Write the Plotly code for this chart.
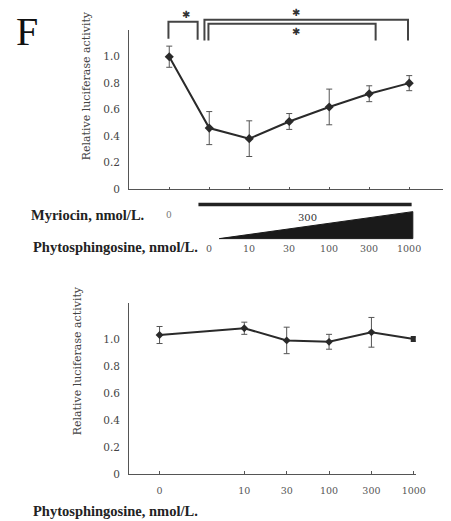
import plotly.graph_objects as go

# ---------------- data ----------------
top_myriocin = ["0", "300", "300", "300", "300", "300", "300"]
top_phyto_labels = ["0", "10", "30", "100", "300", "1000"]
top_mean = [1.00, 0.46, 0.38, 0.51, 0.62, 0.72, 0.80]
top_err = [0.08, 0.125, 0.135, 0.06, 0.135, 0.06, 0.057]

bottom_cats = ["0", "10", "30", "100", "300", "1000"]
bottom_mean = [1.03, 1.08, 0.99, 0.98, 1.05, 1.00]
bottom_err = [0.063, 0.045, 0.098, 0.055, 0.11, 0.015]

y_tickvals = [0, 0.2, 0.4, 0.6, 0.8, 1.0]
y_ticktext = ["0", "0.2", "0.4", "0.6", "0.8", "1.0"]

# significance comparisons: (from index, to index) on the top axis
sig_pairs = [(0, 1), (1, 6), (1, 5)]
sig_text = ["✱", "✱", "✱"]

# ---------------- layout helpers ----------------
W, H = 451, 521
FONT = "Liberation Serif"
TFONT = "DejaVu Serif"
INK = "#2a2a2a"
GREY = "#555555"


def py(px):
    """pixel row -> paper y"""
    return 1 - px / H


def pxx(px):
    return px / W


top_x = list(range(len(top_mean)))
bottom_x = [0, 2, 3, 4, 5, 6]  # display positions of the bottom categories

fig = go.Figure()

fig.add_trace(go.Scatter(
    x=top_x, y=top_mean, mode="lines+markers",
    line=dict(color=INK, width=2),
    marker=dict(symbol="diamond", size=7, color=INK),
    error_y=dict(type="data", array=top_err, color=GREY, thickness=1, width=3),
    xaxis="x", yaxis="y", showlegend=False, hoverinfo="skip"))

bottom_symbols = ["diamond"] * (len(bottom_mean) - 1) + ["square"]
fig.add_trace(go.Scatter(
    x=bottom_x, y=bottom_mean, mode="lines+markers",
    line=dict(color=INK, width=2),
    marker=dict(symbol=bottom_symbols, size=6, color=INK),
    error_y=dict(type="data", array=bottom_err, color=GREY, thickness=1, width=3),
    xaxis="x2", yaxis="y2", showlegend=False, hoverinfo="skip"))

axis_common = dict(showline=True, linecolor=GREY, linewidth=1.3, showgrid=False,
                   zeroline=False)
ytick_font = dict(size=10.5, color="#444", family=TFONT)

fig.update_layout(
    width=W, height=H, margin=dict(l=0, r=0, t=0, b=0),
    paper_bgcolor="white", plot_bgcolor="white",
    font=dict(family=FONT, color=INK),
    xaxis=dict(domain=[pxx(124), pxx(450)], range=[-1.0, 6.97], anchor="y",
               tickvals=top_x, ticks="inside", ticklen=2, tickcolor=GREY,
               showticklabels=False, **axis_common),
    yaxis=dict(domain=[py(183), py(22)], range=[0, 1.204], anchor="x",
               tickvals=y_tickvals, ticktext=y_ticktext, ticks="",
               ticklabelstandoff=6, tickfont=ytick_font, **axis_common),
    xaxis2=dict(domain=[pxx(124), pxx(417)], range=[-0.715, 6.046], anchor="y2",
                tickvals=bottom_x, ticktext=bottom_cats, ticks="inside", ticklen=3,
                tickcolor=GREY, ticklabelstandoff=7,
                tickfont=dict(size=9.5, color="#555", family=TFONT), **axis_common),
    yaxis2=dict(domain=[py(471.7), py(298)], range=[0, 1.27], anchor="x2",
                tickvals=y_tickvals, ticktext=y_ticktext, ticks="",
                ticklabelstandoff=6, tickfont=ytick_font, **axis_common),
)

shapes = []
annotations = []


def note(text, x, y, size, color="#333", family=FONT, xref="paper", xanchor="center",
         textangle=0):
    annotations.append(dict(text=text, x=x, y=y, xref=xref, yref="paper",
                            xanchor=xanchor, yanchor="middle", textangle=textangle,
                            showarrow=False, font=dict(size=size, color=color, family=family)))


# y-axis titles
note("Relative luciferase activity", pxx(80), py(79), 11, "#444", TFONT, textangle=-90)
note("Relative luciferase activity", pxx(71), py(357), 11, "#444", TFONT, textangle=-90)

# Panel letter
note("F", pxx(19), py(24), 40, "#111")

# Significance brackets (x in data units of the top axis, y in pixels)
def bracket(x0, x1, ytop, yl, yr):
    shapes.append(dict(type="path", xref="x", yref="paper",
                       path=f"M {x0},{py(yl)} L {x0},{py(ytop)} L {x1},{py(ytop)} L {x1},{py(yr)}",
                       line=dict(color="#444", width=2)))

bracket(sig_pairs[0][0] - 0.02, sig_pairs[0][1] - 0.29, 14, 31, 32)
bracket(sig_pairs[1][0] - 0.12, sig_pairs[1][1] - 0.03, 12, 33, 33)
bracket(sig_pairs[2][0] - 0.02, sig_pairs[2][1] + 0.16, 16, 33, 33)
for t, xs, ys in zip(sig_text, [0.42, 3.18, 3.18], [7, 4.5, 23.5]):
    note(t, xs, py(ys), 10, "#333", "DejaVu Sans", xref="x")

# Myriocin bar and phytosphingosine wedge
shapes.append(dict(type="line", xref="x", yref="paper", x0=0.73, x1=6.06,
                   y0=py(198.7), y1=py(198.7), line=dict(color="#222", width=3.5)))
shapes.append(dict(type="path", xref="x", yref="paper",
                   path=f"M 1.25,{py(233.3)} L 6.09,{py(233.3)} L 6.09,{py(206)} Z",
                   fillcolor="#1a1a1a", line=dict(color="#1a1a1a", width=1)))

# Treatment labels
note("<b>Myriocin, nmol/L.</b>", pxx(21), py(209), 14.5, "#222", FONT, xanchor="left")
note(top_myriocin[0], 0, py(209), 9, "#777", TFONT, xref="x")
note(top_myriocin[1], 3.45, py(212), 10, "#333", TFONT, xref="x")
note("<b>Phytosphingosine, nmol/L.</b>", pxx(24), py(242), 14.5, "#222", FONT, xanchor="left")
for i, lab in enumerate(top_phyto_labels):
    note(lab, i + 1, py(243.5), 9.5, "#555", TFONT, xref="x")

note("<b>Phytosphingosine, nmol/L.</b>", pxx(24), py(509), 14.5, "#222", FONT, xanchor="left")

fig.update_layout(shapes=shapes, annotations=annotations)
fig.write_html("out.html")
